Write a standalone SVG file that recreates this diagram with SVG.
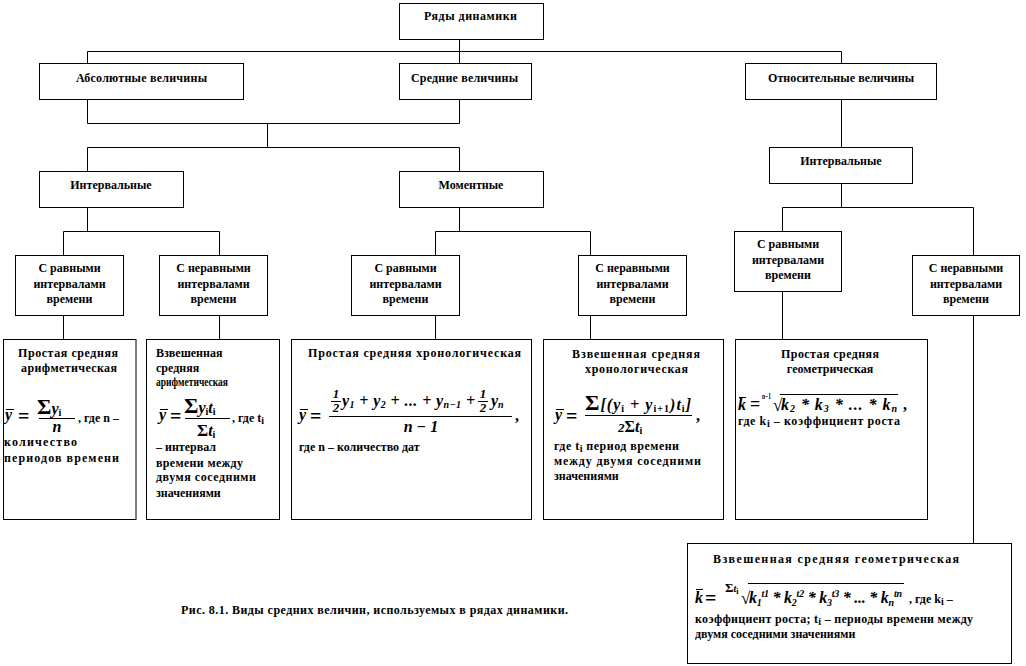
<svg xmlns="http://www.w3.org/2000/svg" width="1026" height="666" viewBox="0 0 1026 666">
<style>
.b{fill:#fff;stroke:#000;stroke-width:1}
.c{fill:none;stroke:#000;stroke-width:1}
text{font-family:"Liberation Serif","Times New Roman","DejaVu Serif",serif;font-weight:bold;font-size:12px;fill:#000}
.m{text-anchor:middle}
.f{font-style:italic;font-size:16px}
.u{font-size:16px;font-style:normal}
.q{font-size:20px;font-style:normal}
.sg{font-size:22px;font-style:normal}
.sd{font-size:17px;font-style:normal}
.sb{font-size:10px}
.sm{font-size:8px}
</style>
<rect width="1026" height="666" fill="#fff"/>
<g id="connectors" class="c">
<path d="M459.5 39.5V63.5M87.5 51.5H841.5M87.5 51.5V63.5M841.5 51.5V63.5"/>
<path d="M87.5 99.5V123.5H459.5V99.5M267.5 123.5V147.5M87.5 171.5V147.5H459.5V171.5"/>
<path d="M841.5 99.5V147.5M841.5 183.5V207.5M782.5 231.5V207.5H973.5V255.5"/>
<path d="M87.5 207.5V231.5M63.5 255.5V231.5H219.5V255.5"/>
<path d="M459.5 207.5V231.5M435.5 255.5V231.5H590.5V255.5"/>
<path d="M63.5 315.5V339.5M219.5 315.5V339.5M435.5 315.5V339.5M590.5 315.5V339.5M782.5 291.5V339.5M973.5 315.5V543.5"/>
</g>
<g id="root"><rect class="b" x="399.5" y="3.5" width="144" height="36"/><text x="424" y="20" textLength="93">Ряды динамики</text></g>
<g id="abs"><rect class="b" x="39.5" y="63.5" width="204" height="36"/><text x="76" y="82" textLength="131">Абсолютные величины</text></g>
<g id="avg"><rect class="b" x="399.5" y="63.5" width="132" height="36"/><text x="411" y="82" textLength="107">Средние величины</text></g>
<g id="rel"><rect class="b" x="745.5" y="63.5" width="191" height="36"/><text x="768" y="82" textLength="146">Относительные величины</text></g>
<g id="intL"><rect class="b" x="39.5" y="171.5" width="144" height="36"/><text class="m" x="111" y="189">Интервальные</text></g>
<g id="mom"><rect class="b" x="399.5" y="171.5" width="144" height="36"/><text class="m" x="471" y="189">Моментные</text></g>
<g id="intR"><rect class="b" x="769.5" y="147.5" width="143" height="36"/><text class="m" x="841" y="165">Интервальные</text></g>
<g id="eq1"><rect class="b" x="15.5" y="255.5" width="108" height="60"/><text class="m" x="69.5" y="272">С равными</text><text class="m" x="69.5" y="287.5">интервалами</text><text class="m" x="69.5" y="303">времени</text></g>
<g id="neq1"><rect class="b" x="159.5" y="255.5" width="108" height="60"/><text class="m" x="213.5" y="272">С неравными</text><text class="m" x="213.5" y="287.5">интервалами</text><text class="m" x="213.5" y="303">времени</text></g>
<g id="eq2"><rect class="b" x="351.5" y="255.5" width="108" height="60"/><text class="m" x="405.5" y="272">С равными</text><text class="m" x="405.5" y="287.5">интервалами</text><text class="m" x="405.5" y="303">времени</text></g>
<g id="neq2"><rect class="b" x="578.5" y="255.5" width="108" height="60"/><text class="m" x="632.5" y="272">С неравными</text><text class="m" x="632.5" y="287.5">интервалами</text><text class="m" x="632.5" y="303">времени</text></g>
<g id="eq3"><rect class="b" x="734.5" y="231.5" width="107" height="60"/><text class="m" x="788" y="248">С равными</text><text class="m" x="788" y="263.5">интервалами</text><text class="m" x="788" y="279">времени</text></g>
<g id="neq3"><rect class="b" x="912.5" y="255.5" width="107" height="60"/><text class="m" x="966" y="272">С неравными</text><text class="m" x="966" y="287.5">интервалами</text><text class="m" x="966" y="303">времени</text></g>

<g id="f1"><rect class="b" x="3.5" y="339.5" width="132.5" height="180"/>
<text x="18" y="357" textLength="100">Простая  средняя</text><text x="21" y="372" textLength="96">арифметическая</text>
<line class="c" x1="6" y1="409.5" x2="14" y2="409.5"/>
<text class="f" x="5" y="420">y</text><text class="q" x="18" y="423">=</text>
<text x="37" y="414"><tspan class="sg">Σ</tspan><tspan class="f">y</tspan><tspan class="sb" dy="2">i</tspan></text>
<line class="c" x1="39" y1="418.5" x2="75" y2="418.5"/>
<text class="f m" x="57" y="432">n</text>
<text x="78" y="422">, где n –</text>
<text x="4" y="446" textLength="73">количество</text><text x="4" y="462" textLength="115">периодов времени</text></g>

<g id="f2"><rect class="b" x="146.5" y="339.5" width="133" height="180"/>
<text x="156" y="357">Взвешенная</text><text x="156" y="372">средняя</text><text x="156" y="386" textLength="72" lengthAdjust="spacingAndGlyphs">арифметическая</text>
<line class="c" x1="160" y1="409.5" x2="168" y2="409.5"/>
<text class="f" x="159" y="420">y</text><text class="q" x="170" y="423">=</text>
<text x="184" y="413"><tspan class="sg">Σ</tspan><tspan class="f">y</tspan><tspan class="sb" dy="2">i</tspan><tspan class="f" dy="-2">t</tspan><tspan class="sb" dy="2">i</tspan></text>
<line class="c" x1="185" y1="418.5" x2="230" y2="418.5"/>
<text x="197" y="436"><tspan class="sd">Σ</tspan><tspan class="f">t</tspan><tspan class="sb" dy="2">i</tspan></text>
<text x="232" y="422">, где t<tspan class="sb" dy="2">i</tspan></text>
<text x="156" y="451">– интервал</text><text x="156" y="467" textLength="87">времени между</text><text x="156" y="481" textLength="100">двумя соседними</text><text x="156" y="497">значениями</text></g>

<g id="f3"><rect class="b" x="291.5" y="339.5" width="240" height="180"/>
<text x="308" y="357" textLength="213">Простая  средняя  хронологическая</text>
<line class="c" x1="300" y1="409.5" x2="308" y2="409.5"/>
<text class="f" x="299" y="420">y</text><text class="q" x="310" y="423">=</text>
<text class="f m" x="336" y="398" style="font-size:13px">1</text><line class="c" x1="331" y1="401.5" x2="341" y2="401.5"/><text class="f m" x="336" y="412" style="font-size:13px">2</text>
<text class="f" x="342" y="406" textLength="133">y<tspan class="sb" dy="2">1</tspan><tspan dy="-2"> + y</tspan><tspan class="sb" dy="2">2</tspan><tspan dy="-2"> + ... + y</tspan><tspan class="sb" dy="2">n−1</tspan><tspan dy="-2"> +</tspan></text>
<text class="f m" x="483" y="398" style="font-size:13px">1</text><line class="c" x1="478" y1="401.5" x2="488" y2="401.5"/><text class="f m" x="483" y="412" style="font-size:13px">2</text>
<text class="f" x="491" y="406">y<tspan class="sb" dy="2">n</tspan></text>
<line class="c" x1="329" y1="416.5" x2="512" y2="416.5"/>
<text class="f m" x="421" y="432">n − 1</text>
<text class="u" x="515" y="421">,</text>
<text x="299" y="451">где n – количество дат</text></g>

<g id="f4"><rect class="b" x="543.5" y="339.5" width="180" height="180"/>
<text x="572" y="358" textLength="128">Взвешенная  средняя</text><text x="585" y="373" textLength="103">хронологическая</text>
<line class="c" x1="556" y1="409.5" x2="564" y2="409.5"/>
<text class="f" x="555" y="420">y</text><text class="q" x="566" y="423">=</text>
<text x="585" y="410" textLength="106"><tspan class="sg">Σ</tspan><tspan class="f">[(y</tspan><tspan class="sb" dy="2">i</tspan><tspan class="f" dy="-2"> + y</tspan><tspan class="sb" dy="2">i+1</tspan><tspan class="f" dy="-2">)t</tspan><tspan class="sb" dy="2">i</tspan><tspan class="f" dy="-2">]</tspan></text>
<line class="c" x1="585" y1="415.5" x2="692" y2="415.5"/>
<text x="618" y="432"><tspan class="f" style="font-size:13px">2</tspan><tspan class="u">Σ</tspan><tspan class="f">t</tspan><tspan class="sb" dy="2">i</tspan></text>
<text class="u" x="696" y="421">,</text>
<text x="554" y="450" textLength="125">где t<tspan class="sb" dy="2">i</tspan><tspan dy="-2"> период времени</tspan></text><text x="554" y="465" textLength="147">между двумя соседними</text><text x="554" y="480">значениями</text></g>

<g id="f5"><rect class="b" x="735.5" y="339.5" width="192" height="180"/>
<text x="781" y="358" textLength="98">Простая  средняя</text><text class="m" x="830" y="373">геометрическая</text>
<line class="c" x1="739" y1="397.5" x2="746" y2="397.5"/>
<text class="f" x="738" y="410">k</text><text class="q" x="750" y="410" style="font-size:18px">=</text>
<text class="sm" x="762" y="399" textLength="9" lengthAdjust="spacingAndGlyphs">n−1</text>
<text class="sd" x="773" y="411">√</text>
<line class="c" x1="780" y1="394.5" x2="898" y2="394.5"/>
<text class="f" x="781" y="410" textLength="116">k<tspan class="sb" dy="2">2</tspan><tspan dy="-2"> * k</tspan><tspan class="sb" dy="2">3</tspan><tspan dy="-2"> * ... * k</tspan><tspan class="sb" dy="2">n</tspan></text>
<text class="u" x="903" y="410">,</text>
<text x="738" y="425" textLength="162">где k<tspan class="sb" dy="2">i</tspan><tspan dy="-2"> – коэффициент роста</tspan></text></g>

<g id="f6"><rect class="b" x="687.5" y="543.5" width="324" height="120"/>
<text x="713" y="563" textLength="246">Взвешенная  средняя  геометрическая</text>
<line class="c" x1="696" y1="589.5" x2="703" y2="589.5"/>
<text class="f" x="695" y="603">k</text><text class="q" x="705" y="605">=</text>
<text x="725" y="592"><tspan style="font-size:13px">Σ</tspan><tspan class="f sb">t</tspan><tspan class="sm" dy="2">i</tspan></text>
<text class="sd" x="741" y="604">√</text>
<line class="c" x1="748" y1="583.5" x2="904" y2="583.5"/>
<text class="f" x="749" y="603" textLength="153">k<tspan class="sb" dy="3">1</tspan><tspan class="sb" dy="-9">t1</tspan><tspan dy="6"> * k</tspan><tspan class="sb" dy="3">2</tspan><tspan class="sb" dy="-9">t2</tspan><tspan dy="6"> * k</tspan><tspan class="sb" dy="3">3</tspan><tspan class="sb" dy="-9">t3</tspan><tspan dy="6"> * ... * k</tspan><tspan class="sb" dy="3">n</tspan><tspan class="sb" dy="-9">tn</tspan></text>
<text x="909" y="603">, где k<tspan class="sb" dy="2">i</tspan><tspan dy="-2"> –</tspan></text>
<text x="695" y="623" textLength="278">коэффициент роста; t<tspan class="sb" dy="2">i</tspan><tspan dy="-2"> – периоды времени между</tspan></text>
<text x="695" y="638">двумя соседними значениями</text></g>

<text x="181" y="614" textLength="387">Рис. 8.1. Виды средних величин, используемых в рядах динамики.</text>
</svg>
